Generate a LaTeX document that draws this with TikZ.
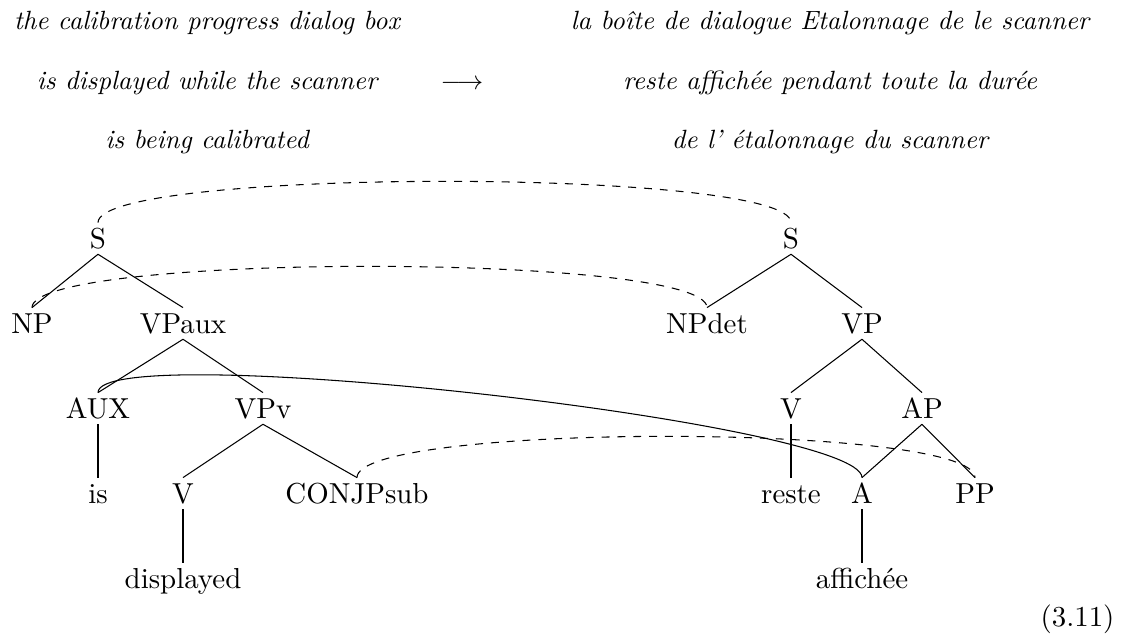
\documentclass[tikz,border=0pt]{standalone}
\usepackage{fontspec}
\begin{document}
\begin{tikzpicture}[x=0.3788pt,y=-0.3788pt,
  cat/.style={font=\fontsize{10.95}{13.6}\selectfont, inner sep=1.8pt,
              text height=8pt, text depth=0pt, anchor=base},
  gloss/.style={font=\fontsize{10}{12}\selectfont\itshape, inner sep=0pt, anchor=base},
  branch/.style={line width=0.4pt},
  align link/.style={line width=0.4pt, dashed},
  head link/.style={line width=0.4pt}]
\useasboundingbox (0,0) rectangle (1129,637);

% sentence pair
\node[gloss] (src1) at (207,30)   {the calibration progress dialog box};
\node[gloss] (src2) at (207,89.5) {is displayed while the scanner};
\node[gloss] (src3) at (207,149)  {is being calibrated};
\node[gloss] (arrow) at (462,89.5) {$\longrightarrow$};
\node[gloss] (tgt1) at (830,30)   {la boîte de dialogue Etalonnage de le scanner};
\node[gloss] (tgt2) at (830,89.5) {reste affichée pendant toute la durée};
\node[gloss] (tgt3) at (830,149)  {de l' étalonnage du scanner};

% source tree
\node[cat] (lS)     at (98,249)  {S};
\node[cat] (lNP)    at (32,334)  {NP};
\node[cat] (lVPaux) at (183,334) {VPaux};
\node[cat] (lAUX)   at (98,419)  {AUX};
\node[cat] (lVPv)   at (263,419) {VPv};
\node[cat] (lis)    at (98,504)  {is};
\node[cat] (lV)     at (183,504) {V};
\node[cat] (lCONJ)  at (357,504) {CONJPsub};
\node[cat] (ldisp)  at (183,589) {displayed};

\draw[branch] (lS.south) -- (lNP.north);
\draw[branch] (lS.south) -- (lVPaux.north);
\draw[branch] (lVPaux.south) -- (lAUX.north);
\draw[branch] (lVPaux.south) -- (lVPv.north);
\draw[branch] (lAUX.south) -- (lis.north);
\draw[branch] (lVPv.south) -- (lV.north);
\draw[branch] (lVPv.south) -- (lCONJ.north);
\draw[branch] (lV.south) -- (ldisp.north);

% target tree
\node[cat] (rS)     at (791,249) {S};
\node[cat] (rNPdet) at (707,334) {NPdet};
\node[cat] (rVP)    at (862,334) {VP};
\node[cat] (rV)     at (791,419) {V};
\node[cat] (rAP)    at (922,419) {AP};
\node[cat] (rreste) at (791,504) {reste};
\node[cat] (rA)     at (862,504) {A};
\node[cat] (rPP)    at (975,504) {PP};
\node[cat] (raff)   at (862,589) {affichée};

\draw[branch] (rS.south) -- (rNPdet.north);
\draw[branch] (rS.south) -- (rVP.north);
\draw[branch] (rVP.south) -- (rV.north);
\draw[branch] (rVP.south) -- (rAP.north);
\draw[branch] (rV.south) -- (rreste.north);
\draw[branch] (rAP.south) -- (rA.north);
\draw[branch] (rAP.south) -- (rPP.north);
\draw[branch] (rA.south) -- (raff.north);

% alignment links
\draw[align link] (lS.north) .. controls +(0,-55) and +(0,-55) .. (rS.north);
\draw[align link] (lNP.north) .. controls +(0,-55) and +(0,-55) .. (rNPdet.north);
\draw[head link] (lAUX.north) .. controls +(0,-55) and +(0,-55) .. (rA.north);
\draw[align link] (lCONJ.north) .. controls +(0,-55) and +(0,-55) .. (rPP.north);

% equation number
\node[font=\fontsize{10.95}{13.6}\selectfont, inner sep=0pt, anchor=base] (eqno) at (1077.5,627) {(3.11)};
\end{tikzpicture}
\end{document}
